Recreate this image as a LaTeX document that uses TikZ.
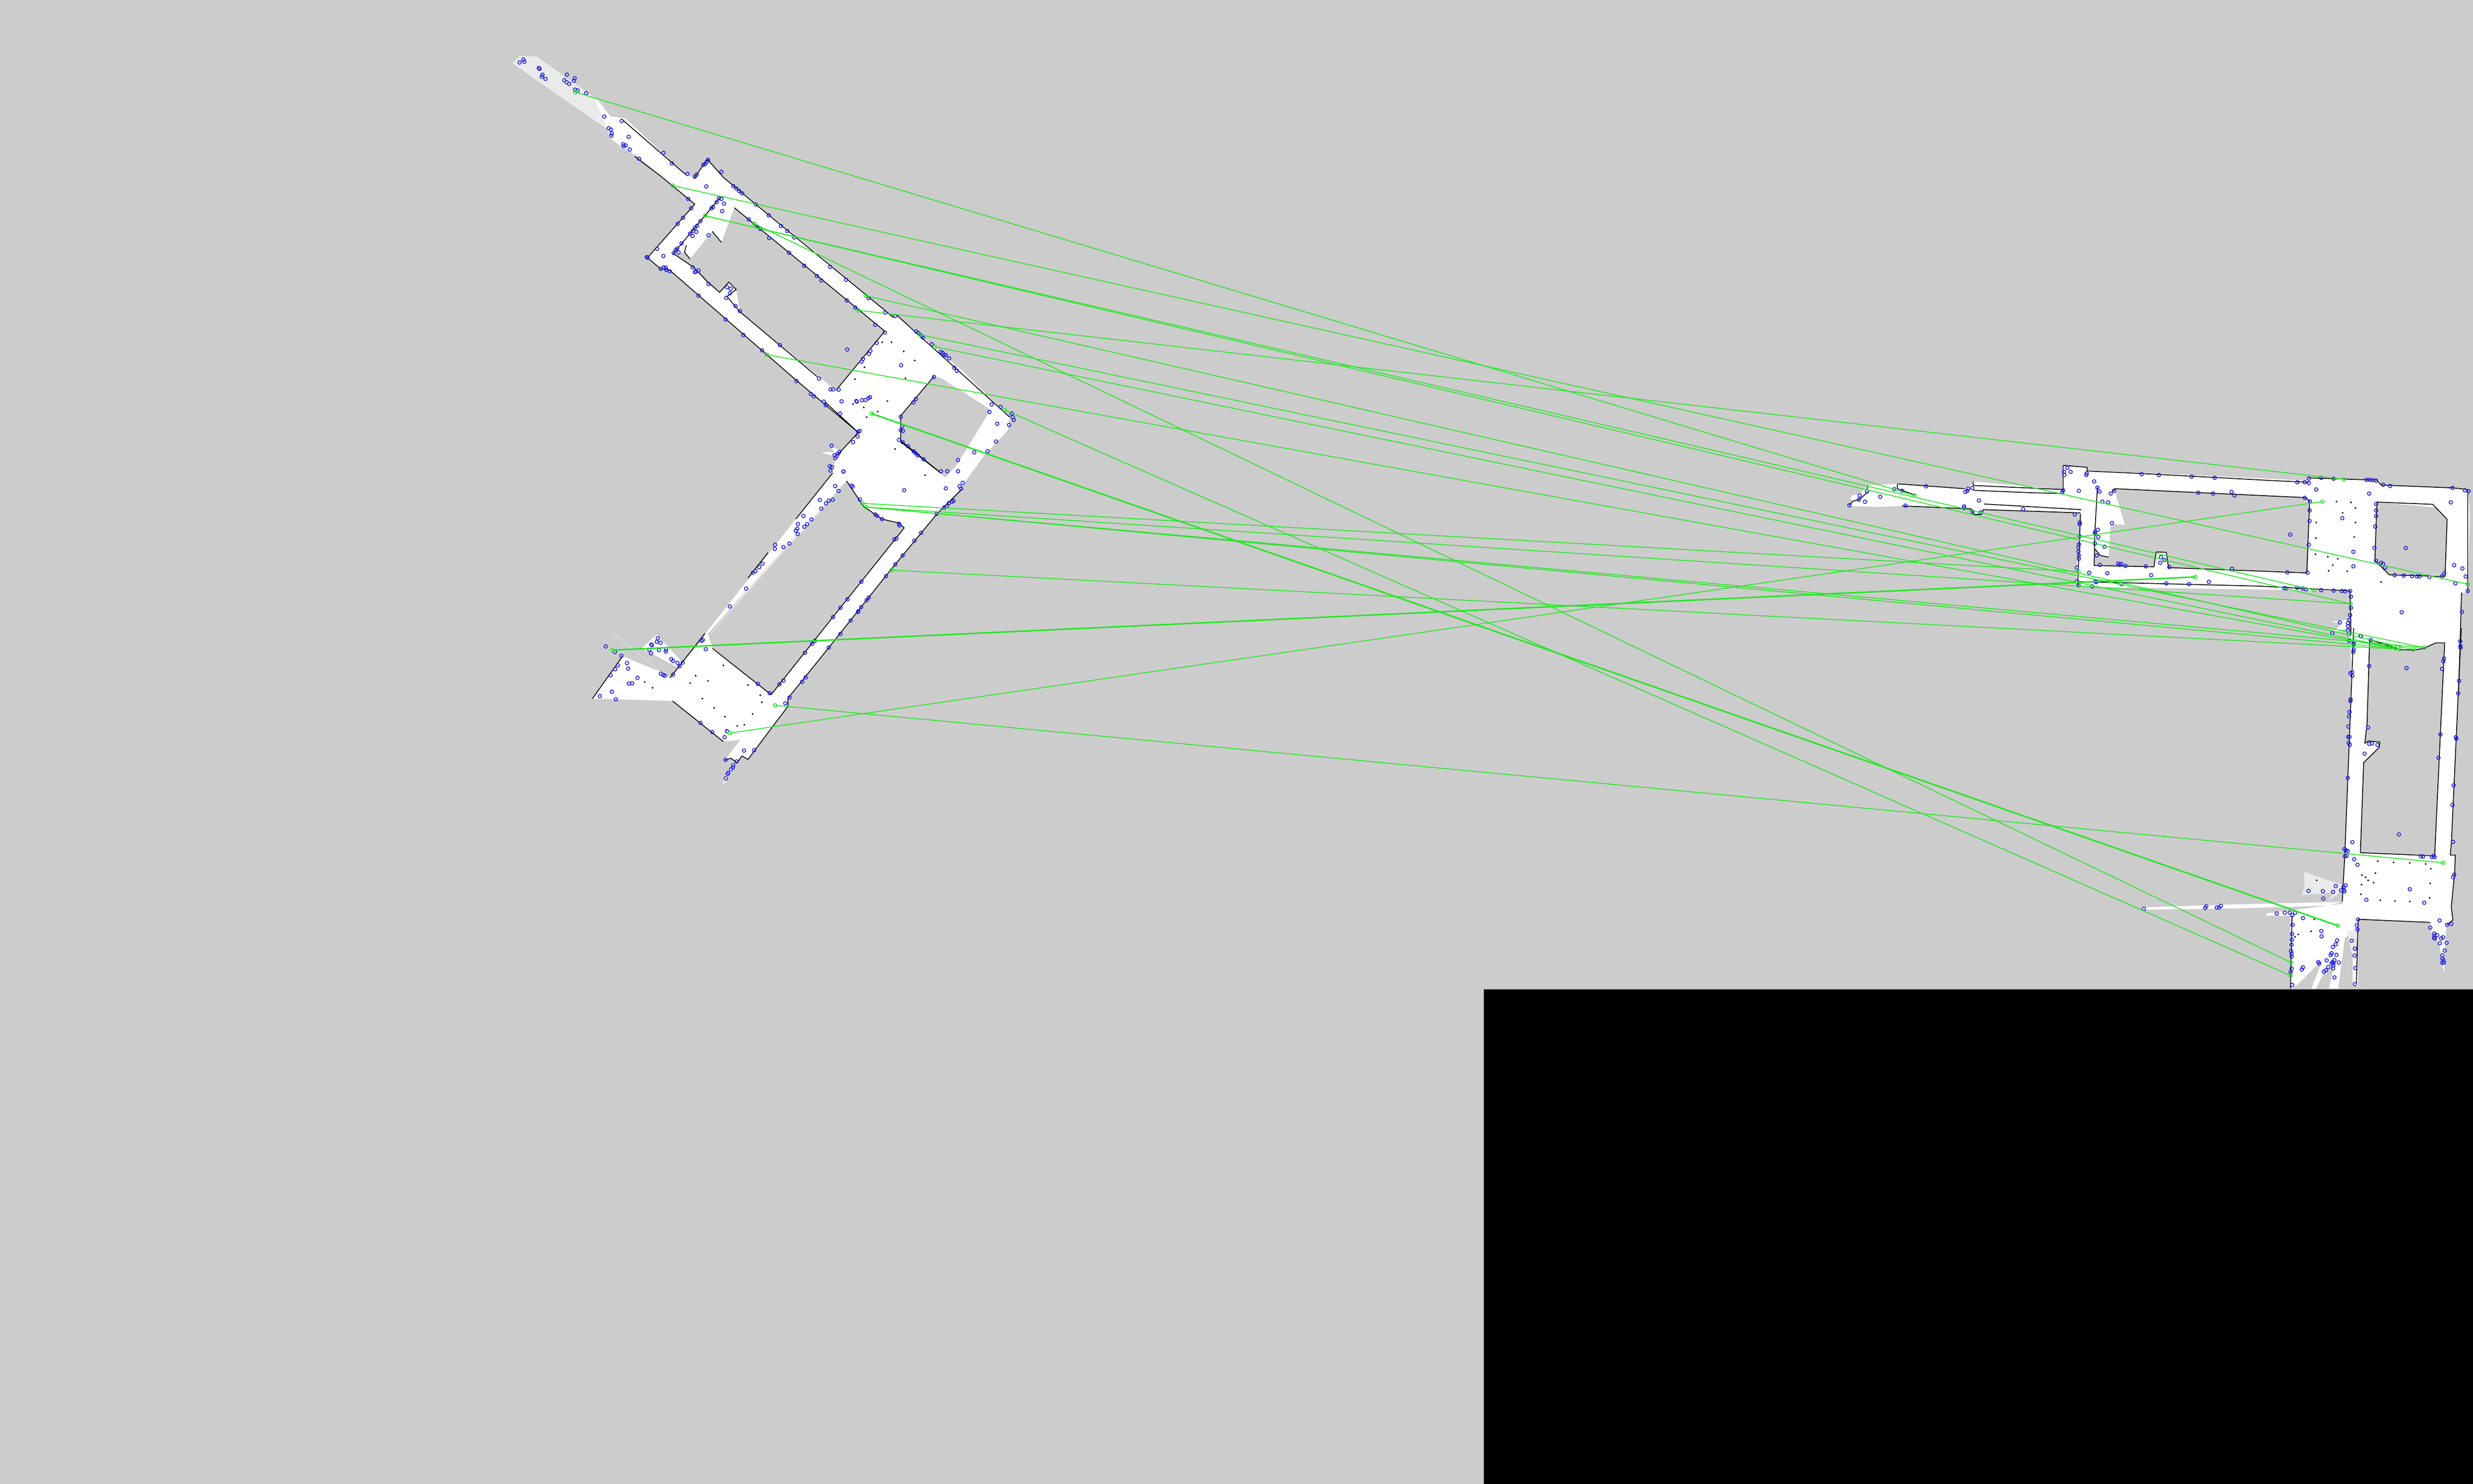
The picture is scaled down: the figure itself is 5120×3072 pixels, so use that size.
\documentclass[tikz,border=0pt]{standalone}
\usetikzlibrary{plotmarks}
\definecolor{bggray}{HTML}{CCCCCC}
\definecolor{kpblue}{HTML}{1C1CE0}
\definecolor{matchgreen}{HTML}{22E622}
\definecolor{streak}{HTML}{EAEAEA}
\tikzset{
  ZA/.style={shift={(1000,80)},xscale=0.7653,yscale=0.574},
  ZB/.style={shift={(1150,900)},xscale=0.6378,yscale=0.4783},
  ZC/.style={shift={(3780,930)},xscale=0.8547,yscale=0.3333},
  ZD/.style={shift={(4400,1300)},xscale=0.4592,yscale=0.4975},
  ZE/.style={shift={(3800,960)},xscale=0.3827,yscale=0.3333},
  free/.style={fill=white,draw=none},
  hole/.style={fill=bggray,draw=none},
  soft/.style={fill=streak,draw=none},
  ray/.style={draw=streak,line width=0.1mm},
  wall/.style={draw=black,line width=0.17mm,line join=round},
  kp/.style 2 args={draw=kpblue,line width=0.16mm,only marks,mark=o,mark size=0.36mm,mark options={draw=kpblue,fill=none,xscale=#1,yscale=#2}},
  speck/.style 2 args={draw=black,only marks,mark=*,mark size=0.1mm,mark options={fill=black,xscale=#1,yscale=#2}},
  match/.style={draw=matchgreen,line width=0.17mm},
  matchthick/.style={draw=matchgreen,line width=0.3mm},
  endmark/.style={draw=matchgreen,line width=0.16mm}
}
\begin{document}
\begin{tikzpicture}[x=0.1mm,y=-0.1mm]
\useasboundingbox (0,0) rectangle (5120,3072);
\fill[bggray] (0,0) rectangle (5120,3072);
% ---------- left map: free space
\begin{scope}[ZA]
\fill[soft] (80,88) -- (100,62) -- (145,65) -- (225,140) -- (315,225) -- (345,285) -- (335,325) -- (150,155) -- cycle;
\fill[free] (300,210) -- (345,280) -- (385,288) -- (548,490) -- (572,502) -- (607,435) -- (650,500) -- (900,770) -- (1110,1008) -- (1120,998) -- (1290,1190) -- (1425,1365) -- (1420,1412) -- (1365,1490) -- (1310,1568) -- (940,1568) -- (960,1500) -- (1015,1420) -- (850,1235) -- (505,835) -- (480,830) -- (445,790) -- (573,597) -- (480,495) -- (420,425) -- (380,395) -- (345,360) -- (335,320) -- cycle;
\fill[free] (915,1492) -- (965,1490) -- (960,1510) -- cycle;
\fill[free] (940,1470) -- (975,1490) -- (960,1510) -- cycle;
\end{scope}
\begin{scope}[ZB]
\fill[free] (1440,0) -- (1310,240) -- (1240,340) -- (1085,590) -- (885,925) -- (755,1140) -- (755,1175) -- (715,1245) -- (625,1405) -- (605,1390) -- (590,1420) -- (570,1400) -- (550,1408) -- (600,1320) -- (545,1328) -- (380,1152) -- (120,1142) -- (180,1035) -- (218,958) -- (340,1025) -- (372,1052) -- (410,990) -- (480,880) -- (490,855) -- (780,365) -- (900,165) -- (925,100) -- (985,0) -- cycle;
\fill[free] (280,925) -- (328,865) -- (412,985) -- (395,1005) -- cycle;
\fill[free] (550,1480) -- (575,1425) -- (585,1430) -- (545,1515) -- cycle;
\end{scope}
% ---------- right map: free space
\begin{scope}[ZE]
\fill[free] (75,258) -- (95,232) -- (80,215) -- (95,195) -- (130,190) -- (175,135) -- (335,125) -- (490,135) -- (700,155) -- (740,130) -- (745,110) -- (1230,160) -- (1340,200) -- (1330,305) -- (800,285) -- (790,315) -- (750,315) -- (735,280) -- (690,275) -- (360,262) -- (240,268) -- (75,262) -- cycle;
\end{scope}
\begin{scope}[ZC]
\fill[free] (575,100) -- (633,112) -- (633,130) -- (1170,195) -- (1170,175) -- (1340,190) -- (1345,222) -- (1555,245) -- (1560,400) -- (1555,890) -- (1540,890) -- (1533,1500) -- (1272,1500) -- (1270,880) -- (645,855) -- (605,840) -- (617,400) -- (617,290) -- (575,280) -- cycle;
\fill[free] (1225,1070) -- (1265,1060) -- (1265,1110) -- (1230,1135) -- (1250,1085) -- cycle;
\end{scope}
\begin{scope}[ZD]
\fill[free] (1030,-10) -- (1515,-10) -- (1500,300) -- (1470,900) -- (1465,945) -- (1488,945) -- (1485,1020) -- (1470,1160) -- (1477,1215) -- (1450,1235) -- (1445,1270) -- (1380,1265) -- (1375,1225) -- (1050,1212) -- (978,1150) -- (978,1140) -- (990,940) -- cycle;
\fill[free] (75,1163) -- (500,1150) -- (975,1140) -- (920,1155) -- (500,1167) -- (75,1172) -- cycle;
\fill[free] (635,1188) -- (750,1175) -- (975,1148) -- (1050,1212) -- (1050,1300) -- (1030,1255) -- (990,1290) -- (960,1500) -- (920,1500) -- (942,1400) -- (900,1425) -- (860,1500) -- (840,1500) -- (890,1380) -- (770,1490) -- (745,1500) -- (745,1197) -- (635,1197) -- cycle;
\fill[free] (1025,1350) -- (1045,1350) -- (1050,1490) -- (1025,1490) -- cycle;
\fill[soft] (1000,1260) -- (1045,1260) -- (1040,1350) -- (1020,1350) -- cycle;
\fill[soft] (807,1015) -- (980,1070) -- (975,1095) -- (915,1135) -- (940,1100) -- (795,1112) -- (807,1085) -- cycle;
\fill[free] (1380,1265) -- (1445,1270) -- (1437,1438) -- (1415,1310) -- cycle;
\end{scope}
% ---------- holes
\begin{scope}[ZA]
\fill[hole] (680,610) -- (1087,1055) -- (955,1268) -- (910,1220) -- (695,985) -- (685,905) -- (665,878) -- (640,915) -- (605,880) -- (570,825) -- (520,780) -- (545,770) -- (560,795) -- (620,695) -- (645,735) -- cycle;
\fill[hole] (1220,1218) -- (1240,1225) -- (1370,1335) -- (1370,1345) -- (1280,1540) -- (1250,1583) -- (1237,1566) -- (1130,1450) -- (1130,1360) -- cycle;
\end{scope}
\begin{scope}[ZB]
\fill[hole] (945,200) -- (975,260) -- (1000,310) -- (1060,365) -- (1115,382) -- (1132,403) -- (990,640) -- (900,790) -- (700,1125) -- (510,925) -- (495,860) -- cycle;
\end{scope}
\begin{scope}[ZC]
\fill[hole] (698,245) -- (1165,300) -- (1172,320) -- (1168,765) -- (830,735) -- (825,640) -- (800,638) -- (795,730) -- (650,722) -- (650,620) -- (665,660) -- (685,670) -- (690,465) -- (725,470) -- cycle;
\fill[hole] (1335,328) -- (1480,362) -- (1505,435) -- (1500,780) -- (1365,780) -- (1330,690) -- cycle;
\end{scope}
\begin{scope}[ZD]
\fill[hole] (1102,48) -- (1160,65) -- (1240,90) -- (1300,92) -- (1345,85) -- (1400,62) -- (1440,62) -- (1395,945) -- (1060,935) -- (1075,560) -- (1145,497) -- (1148,475) -- (1097,470) -- (1080,480) -- (1090,400) -- cycle;
\end{scope}
% ---------- streaks in the corridors
\begin{scope}[ZB]
\draw[ray] (505,860) -- (800,400) (530,820) -- (830,370) (560,760) -- (870,320) (610,680) -- (900,270) (185,855) -- (345,1030);
\draw[ray] (175,1055) -- (240,1075) (225,965) -- (340,1025) (180,1120) -- (270,1145);
\end{scope}
\begin{scope}[ZD]
\draw[ray] (810,1060) -- (870,1060) (800,1090) -- (870,1075) (800,1105) -- (940,1095);
\end{scope}
% ---------- walls
\begin{scope}[ZA]
\draw[wall] (375,290) -- (548,490) (572,502) -- (607,435) -- (650,500) -- (740,600) -- (1110,1005) (1120,998) -- (1425,1365);
\draw[wall] (410,425) -- (480,495) -- (573,597) -- (445,790) -- (480,830) -- (505,835) -- (850,1235) -- (1015,1420) -- (960,1500) (925,1310) -- (1015,1420);
\draw[wall] (640,575) -- (515,775) -- (570,825) -- (610,880) -- (640,915) -- (665,878) -- (685,905) -- (660,930) -- (695,985) -- (905,1220) (955,1268) -- (1087,1055) -- (680,610);
\draw[wall] (560,795) -- (545,770) -- (550,745) (620,695) -- (645,735);
\draw[wall] (1220,1218) -- (1130,1360) -- (1130,1450) -- (1240,1568);
\end{scope}
\begin{scope}[ZB]
\draw[wall] (1120,30) -- (1250,165) (945,200) -- (975,260) -- (1000,310) -- (1060,365) -- (1115,382) -- (1132,403) -- (990,640) -- (900,790) -- (700,1125) -- (510,925);
\draw[wall] (1320,235) -- (1240,340) -- (1085,590) -- (885,925) -- (755,1140) -- (755,1175) -- (715,1245) -- (625,1405) -- (605,1390);
\draw[wall] (380,1152) -- (545,1328) (900,165) -- (780,365) (485,860) -- (372,1052) (218,958) -- (120,1142);
\draw[wall] (690,510) -- (625,620) (550,1408) -- (570,1400) -- (590,1420) (590,1420) -- (605,1390);
\end{scope}
\begin{scope}[ZE]
\draw[wall] (75,258) -- (95,232) -- (130,222) -- (175,175) (175,135) -- (170,160) (335,125) -- (335,155) -- (430,195);
\draw[wall] (745,110) -- (745,135) -- (1230,160) (745,165) -- (1060,180) -- (1230,185) (805,250) -- (1330,285) (800,285) -- (1325,305) (800,285) -- (790,315) -- (750,315) -- (735,280) -- (360,262);
\draw[wall] (700,155) -- (340,125);
\end{scope}
\begin{scope}[ZC]
\draw[wall] (575,270) -- (575,100) -- (633,112) -- (633,135) -- (760,150) -- (1085,195) -- (1170,205) (1170,178) -- (1335,192) -- (1345,222) -- (1520,240) -- (1555,250) -- (1555,890) (1540,890) -- (1533,1500);
\draw[wall] (617,400) -- (610,840) -- (612,845) (610,822) -- (1050,850) -- (1270,880) -- (1272,1150);
\draw[wall] (695,265) -- (700,245) -- (1160,300) -- (1172,320) -- (1165,768) -- (830,735) -- (825,640) -- (800,638) -- (795,730) -- (650,722) -- (652,500) -- (658,235);
\draw[wall] (652,620) -- (665,660) -- (685,670);
\draw[wall] (1335,328) -- (1470,342) -- (1505,435) -- (1500,790) -- (1365,780) -- (1330,690) -- cycle;
\end{scope}
\begin{scope}[ZD]
\draw[wall] (1102,48) -- (1160,65) -- (1240,90) -- (1300,92) -- (1345,85) -- (1400,62) -- (1440,62) -- (1395,945) (1060,935) -- (1395,948) (1102,48) -- (1090,400) -- (1080,480) -- (1097,470) -- (1148,475) -- (1145,497) -- (1075,560) -- (1060,935);
\draw[wall] (1030,0) -- (990,940) -- (978,1140) (1465,945) -- (1488,945) -- (1485,1020) -- (1470,1160) -- (1477,1215) -- (1450,1235) (1050,1212) -- (1375,1225) (1515,0) -- (1500,300) -- (1470,900) -- (1465,945);
\draw[wall] (752,1197) -- (745,1500) (1050,1212) -- (1047,1300) -- (1042,1480);
\end{scope}
% ---------- specks
\begin{scope}[ZA]
\draw[speck={1.3067}{1.742}] plot coordinates {(1080,1095) (1105,1095) (1138,1128) (1168,1161) (1032,1185) (1143,1225) (1006,1228) (1094,1307) (1001,1318) (1030,1330) (1068,1345) (1038,1365) (1115,1480)};
\end{scope}
\begin{scope}[ZB]
\draw[speck={1.568}{2.0907}] plot coordinates {(1200,175) (545,998) (455,1043) (437,1075) (495,1065) (625,1083) (665,1127) (477,1142) (670,1158) (515,1182) (640,1208) (550,1220) (613,1255) (590,1260) (555,1277) (315,1095) (290,1070)};
\end{scope}
\begin{scope}[ZC]
\draw[speck={1.17}{3}] plot coordinates {(1237,325) (1272,330) (1283,365) (1252,395) (1188,455) (1283,455) (1187,552) (1280,545) (1186,652) (1216,668) (1240,680) (1228,720) (1218,755) (1263,758) (1345,825)};
\end{scope}
\begin{scope}[ZD]
\draw[speck={2.178}{2.01}] plot coordinates {(1138,970) (1210,975) (1283,978) (1355,982) (1378,1002) (1128,1020) (1067,1028) (1084,1037) (1095,1050) (1120,1060) (1065,1068) (1375,1063) (1062,1108) (1150,1133) (1216,1136) (1283,1138) (1372,1123) (863,1050) (765,1285) (838,1262) (780,1275) (852,1212)};
\end{scope}
% ---------- keypoints
\begin{scope}[ZA]
\draw[kp={1.3067}{1.742}] plot coordinates {(99,86) (109,75) (112,83) (151,106) (153,109) (161,130) (159,137) (169,145) (227,130) (248,143) (246,152) (220,150) (226,157) (233,163) (249,184) (256,187) (279,197) (328,281) (375,297) (340,323) (346,328) (348,342) (347,350) (394,354) (379,381) (386,385) (381,388) (397,400) (422,433) (488,412) (511,450) (553,488) (573,498) (578,490) (596,455) (601,452) (605,445) (609,437) (645,480) (604,533) (677,532) (686,541) (693,550) (701,558) (555,578) (563,612) (541,646) (527,668) (471,758) (445,790) (443,788) (488,784) (481,830) (489,825) (494,826) (496,834) (505,839) (738,598) (773,637) (806,676) (823,694) (842,717) (719,652) (742,678) (750,686) (774,719) (828,772) (869,819) (939,823) (982,870) (903,856) (915,872) (1043,936) (984,944) (1007,970) (1088,988) (1115,1000) (1061,1032) (1087,1060) (1172,1056) (1178,1062) (1186,1072) (1190,1078) (1214,1102) (1238,1130) (1243,1133) (1248,1140) (1252,1142) (1261,1153) (1275,1187) (1282,1198) (1220,1220) (1131,1178) (985,1121) (1065,1097) (1048,1126) (1044,1137) (1028,1155) (1024,1165) (803,1105) (755,1124) (704,1069) (656,1013) (583,927) (610,885) (660,896) (670,902) (668,918) (658,935) (683,964) (695,982) (638,576) (645,578) (652,595) (647,622) (632,590) (622,607) (618,612) (588,658) (579,675) (573,682) (568,693) (560,703) (567,712) (577,697) (610,709) (537,738) (525,757) (521,763) (516,773) (529,771) (567,825) (576,840) (573,842) (583,836) (909,1226) (940,1265) (947,1265) (962,1266) (848,1235) (887,1282) (895,1290) (922,1309) (927,1322) (970,1308) (966,1352) (1011,1309) (1025,1304) (1035,1303) (1043,1297) (1047,1293) (1010,1307) (1015,1418) (1019,1415) (1013,1435) (1001,1455) (943,1468) (964,1490) (960,1497) (951,1502) (957,1505) (953,1513) (938,1542) (944,1545) (940,1558) (975,1561) (1171,1300) (1164,1312) (1130,1364) (1130,1412) (1134,1398) (1136,1415) (1125,1447) (1135,1455) (1150,1470) (1165,1488) (1170,1495) (1176,1503) (1192,1517) (1285,1520) (1329,1492) (1365,1488) (1388,1453) (1391,1389) (1370,1346) (1376,1319) (1400,1328) (1430,1352) (1433,1365) (1436,1375) (1423,1393) (1239,1560) (1256,1560) (1285,1560)};
\end{scope}
\begin{scope}[ZB]
\draw[kp={1.568}{2.0907}] plot coordinates {(935,159) (908,222) (919,243) (960,220) (965,224) (988,280) (1038,345) (1044,351) (1060,365) (1115,385) (1116,392) (1267,232) (1312,223) (1317,233) (1322,208) (1292,286) (1287,290) (1277,296) (1262,315) (1270,310) (1237,342) (1132,240) (1187,424) (1165,458) (1107,449) (1100,453) (1127,522) (1103,561) (1073,612) (993,636) (1017,704) (1010,716) (992,746) (983,764) (982,767) (958,804) (948,712) (925,749) (901,789) (925,862) (887,921) (842,892) (833,905) (810,944) (812,1050) (801,1069) (740,1064) (727,1080) (760,1137) (746,1162) (695,1118) (657,1078) (858,282) (900,281) (887,285) (878,297) (863,320) (805,352) (831,367) (817,387) (808,398) (787,386) (785,406) (780,415) (786,430) (759,471) (740,486) (713,476) (712,494) (672,558) (661,573) (649,590) (641,597) (619,666) (566,743) (478,888) (474,892) (488,928) (163,916) (193,940) (214,957) (203,998) (194,1015) (179,1041) (232,988) (236,1012) (266,1052) (249,1076) (238,1077) (183,1112) (144,1131) (196,1145) (332,881) (329,896) (341,900) (311,908) (313,910) (305,931) (336,932) (359,929) (358,938) (310,946) (376,971) (382,979) (396,987) (403,1002) (413,986) (382,1038) (342,1034) (350,1040) (355,1043) (471,1247) (509,1287) (557,1283) (549,1309) (612,1367) (645,1365) (552,1407) (588,1414) (577,1431) (576,1440) (570,1448) (561,1463) (559,1468) (553,1487)};
\end{scope}
\begin{scope}[ZC]
\draw[kp={1.17}{3}] plot coordinates {(57,348) (82,287) (100,262) (80,313) (95,326) (132,295) (193,350) (166,248) (185,258) (243,230) (338,265) (345,245) (343,258) (355,240) (335,355) (335,365) (355,388) (375,393) (371,318) (478,372) (603,405) (575,255) (573,265) (613,258) (577,140) (585,115) (593,140) (578,160) (631,160) (632,150) (650,200) (658,238) (663,263) (698,258) (690,275) (670,325) (684,330) (693,458) (615,455) (615,465) (659,500) (652,515) (652,525) (615,540) (660,545) (652,585) (675,605) (613,590) (612,610) (612,635) (613,660) (613,680) (656,660) (812,670) (820,688) (810,705) (608,735) (638,767) (682,770) (664,718) (708,710) (712,718) (716,712) (726,725) (775,727) (832,732) (788,782) (984,742) (1118,765) (1167,767) (928,823) (880,837) (825,833) (716,837) (653,820) (655,825) (645,852) (608,820) (612,845) (1110,862) (1115,865) (1142,860) (1155,865) (1163,870) (1200,875) (1230,878) (1250,880) (1258,882) (1270,880) (1272,915) (1272,985) (1270,1030) (1268,1060) (1265,1080) (1245,1075) (1265,1100) (1265,1125) (1227,1142) (1296,1162) (1267,1145) (1268,1190) (1278,1210) (1320,1185) (1395,1013) (1125,530) (1251,428) (1172,445) (1172,380) (1170,593) (1173,325) (1160,302) (1188,250) (1170,182) (1142,205) (1160,205) (1170,210) (1200,178) (1230,183) (1310,190) (1318,190) (1325,192) (1333,195) (1350,220) (1367,228) (1316,275) (1278,637) (1278,727) (1405,613) (1333,340) (1333,380) (1333,415) (1331,480) (1329,612) (1333,692) (1345,705) (1350,712) (1355,735) (1378,782) (1400,785) (1420,788) (1432,790) (1438,790) (1462,793) (1492,790) (1498,770) (1522,720) (1542,740) (1550,790) (1525,833) (1555,880) (1541,1010) (1514,330) (1518,240) (1548,255) (1557,260) (765,155) (807,160) (886,170) (942,177) (902,270) (938,275) (983,265) (990,287)};
\end{scope}
\begin{scope}[ZD]
\draw[kp={2.178}{2.01}] plot coordinates {(1061,33) (1030,60) (1030,68) (1030,90) (1028,100) (1100,158) (1268,167) (1437,127) (1434,138) (1428,170) (1505,220) (1501,272) (1510,55) (1511,75) (1512,82) (1015,188) (1023,184) (1024,199) (1016,297) (1015,304) (1011,349) (1009,368) (1006,410) (1095,414) (1005,453) (1011,453) (1007,478) (1012,486) (1100,482) (1113,480) (1137,487) (1079,523) (1421,443) (1490,455) (1493,461) (1412,540) (1480,655) (1475,737) (1003,624) (1478,890) (1024,891) (1234,859) (988,920) (995,925) (1003,928) (990,950) (998,948) (1032,962) (1047,985) (1333,950) (1343,951) (1383,953) (1390,948) (1395,953) (1483,1026) (1478,1037) (994,1071) (949,1074) (984,1078) (985,1090) (988,1096) (973,1092) (937,1098) (891,1095) (826,1094) (893,1126) (1283,1087) (1087,1131) (1348,1143) (84,1169) (360,1165) (365,1158) (413,1163) (423,1163) (431,1156) (683,1188) (719,1185) (741,1184) (753,1195) (766,1185) (801,1207) (1050,1213) (1044,1237) (1047,1255) (754,1235) (752,1273) (884,1261) (885,1283) (751,1297) (750,1318) (747,1343) (750,1355) (750,1367) (955,1300) (949,1316) (936,1327) (1021,1301) (1035,1334) (1034,1363) (952,1360) (930,1353) (926,1361) (870,1390) (874,1396) (908,1383) (943,1382) (935,1390) (939,1393) (930,1396) (963,1392) (938,1404) (915,1411) (905,1424) (895,1430) (937,1416) (801,1412) (796,1421) (750,1417) (746,1432) (1037,1415) (943,1454) (753,1485) (1035,1482) (1417,1217) (1375,1247) (1451,1235) (1470,1231) (1393,1271) (1394,1280) (1406,1278) (1392,1290) (1396,1292) (1424,1292) (1433,1287) (1449,1310) (1418,1312) (1440,1342) (1430,1362) (1430,1375) (1434,1382) (1437,1392) (1429,1393)};
\end{scope}
% ---------- match end points
\begin{scope}[ZA]
\coordinate (la) at (250,193); \coordinate (lb) at (513,530); \coordinate (lc) at (601,639);
\coordinate (ld) at (734,668); \coordinate (le) at (1035,927); \coordinate (lf) at (1016,980);
\coordinate (lg) at (1183,1068); \coordinate (lh) at (1222,1111); \coordinate (li) at (768,1140);
\coordinate (lj) at (1411,1339); \coordinate (lk) at (1051,1352);
\end{scope}
\begin{scope}[ZB]
\coordinate (ll) at (997,297); \coordinate (lm) at (1008,313); \coordinate (ln) at (1091,586);
\coordinate (lo) at (185,932); \coordinate (lp) at (713,1171); \coordinate (lq) at (566,1291);
\end{scope}
\begin{scope}[ZC]
\coordinate (ra) at (215,287); \coordinate (rb) at (1255,187); \coordinate (rc) at (1203,325);
\coordinate (rd) at (895,793); \coordinate (re) at (612,760); \coordinate (rf) at (1271,960);
\coordinate (rg) at (1555,838); \coordinate (rh) at (1183,875);
\end{scope}
\begin{scope}[ZD]
\coordinate (ca) at (1199,80); \coordinate (cb) at (1218,85); \coordinate (cc) at (1238,88);
\coordinate (cd) at (1298,90); \coordinate (ce) at (1348,82);
\coordinate (ri) at (1434,977); \coordinate (rj) at (959,1239); \coordinate (rk) at (748,1392); \coordinate (rl) at (745,1446);
\end{scope}
% ---------- matches
\draw[match] (la) -- (ra);
\draw[match] (lb) -- (rg);
\draw[match] (lc) -- (rh);
\draw[match] (lc) -- (rf);
\draw[match] (ld) -- (rk);
\draw[match] (le) -- (cd);
\draw[match] (lf) -- (rb);
\draw[match] (lg) -- (ce);
\draw[match] (lh) -- (ca);
\draw[match] (li) -- (cb);
\draw[match] (lj) -- (rl);
\draw[matchthick] (lk) -- (rj);
\draw[match] (ll) -- (re);
\draw[match] (lm) -- (rf);
\draw[match] (lm) -- (ce);
\draw[match] (lm) -- (cb);
\draw[match] (ln) -- (cc);
\draw[matchthick] (lo) -- (rd);
\draw[match] (lp) -- (ri);
\draw[match] (lq) -- (rc);
\foreach \e in {la,lb,lc,ld,le,lf,lg,lh,li,lj,lk,ll,lm,ln,lo,lp,lq,ra,rb,rc,rd,re,rf,rg,rh,ca,cb,cc,cd,ce,ri,rj,rk,rl}
  \draw[endmark] (\e) circle[radius=3.7];
% ---------- blanked part
\fill[black] (3072,2048) rectangle (5120,3072);
\end{tikzpicture}
\end{document}
